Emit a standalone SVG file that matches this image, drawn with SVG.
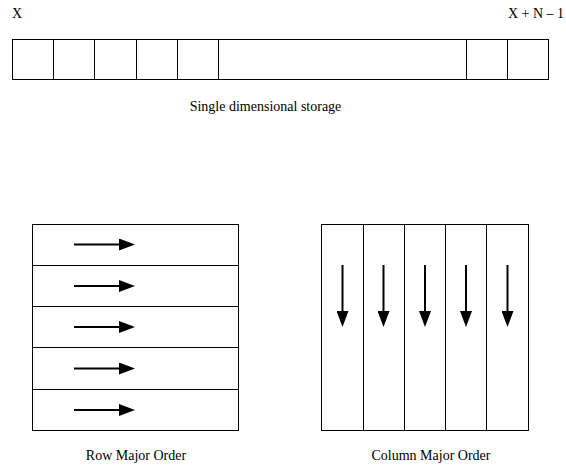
<svg xmlns="http://www.w3.org/2000/svg" width="566" height="469" viewBox="0 0 566 469">
  <style>
    .cell { fill: #ffffff; stroke: #000000; stroke-width: 1; }
    .div { stroke: #000000; stroke-width: 1; fill: none; }
    .lbl { font-family: "Liberation Serif", "Times New Roman", serif; font-size: 14px; fill: #000000; }
    .arr { stroke: #000000; stroke-width: 2; fill: none; marker-end: url(#head); }
  </style>
  <defs>
    <marker id="head" markerUnits="userSpaceOnUse" markerWidth="16" markerHeight="12" refX="0" refY="6" orient="auto">
      <path d="M0,0 L16,6 L0,12 Z" fill="#000000"/>
    </marker>
  </defs>
  <rect width="566" height="469" fill="#ffffff"/>

  <!-- linear storage strip -->
  <g id="storage">
    <rect class="cell" x="12.5" y="39.5" width="536" height="40"/>
    <path class="div" d="M53.5,39.5 V79.5 M94.5,39.5 V79.5 M136.5,39.5 V79.5 M177.5,39.5 V79.5 M218.5,39.5 V79.5 M466.5,39.5 V79.5 M507.5,39.5 V79.5"/>
    <text class="lbl" x="12" y="18">X</text>
    <text class="lbl" x="508" y="18">X + N – 1</text>
    <text class="lbl" x="265.5" y="111" text-anchor="middle">Single dimensional storage</text>
  </g>

  <!-- row-major layout -->
  <g id="row-major">
    <rect class="cell" x="32.5" y="224.5" width="206" height="206"/>
    <path class="div" d="M32.5,265.5 H238.5 M32.5,306.5 H238.5 M32.5,347.5 H238.5 M32.5,389.5 H238.5"/>
    <text class="lbl" x="136" y="460" text-anchor="middle">Row Major Order</text>
  </g>

  <!-- column-major layout -->
  <g id="column-major">
    <rect class="cell" x="321.5" y="224.5" width="207" height="206"/>
    <path class="div" d="M363.5,224.5 V430.5 M404.5,224.5 V430.5 M445.5,224.5 V430.5 M486.5,224.5 V430.5"/>
    <text class="lbl" x="431" y="460" text-anchor="middle">Column Major Order</text>
  </g>

  <!-- traversal arrows -->
  <g id="connectors">
    <line class="arr" x1="74" y1="244.5" x2="119" y2="244.5"/>
    <line class="arr" x1="74" y1="286" x2="119" y2="286"/>
    <line class="arr" x1="74" y1="327" x2="119" y2="327"/>
    <line class="arr" x1="74" y1="368.5" x2="119" y2="368.5"/>
    <line class="arr" x1="74" y1="410" x2="119" y2="410"/>

    <line class="arr" x1="342.5" y1="265" x2="342.5" y2="311"/>
    <line class="arr" x1="383.5" y1="265" x2="383.5" y2="311"/>
    <line class="arr" x1="425" y1="265" x2="425" y2="311"/>
    <line class="arr" x1="466" y1="265" x2="466" y2="311"/>
    <line class="arr" x1="507.5" y1="265" x2="507.5" y2="311"/>
  </g>
</svg>
